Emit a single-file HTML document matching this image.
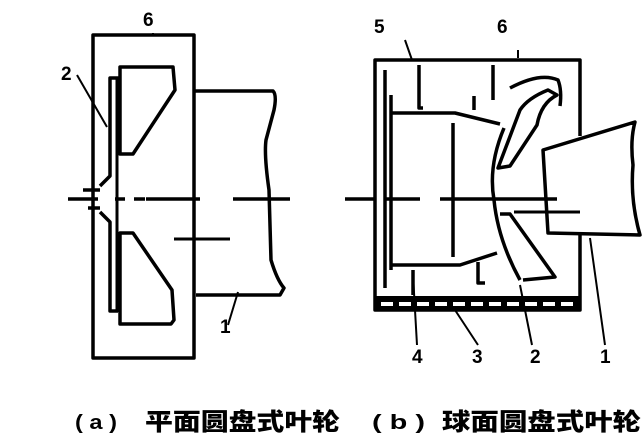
<!DOCTYPE html>
<html><head><meta charset="utf-8"><style>
html,body{margin:0;padding:0;background:#fff;width:643px;height:443px;overflow:hidden}
svg{position:absolute;left:0;top:0}
.l{font-family:"Liberation Sans",sans-serif;font-weight:bold;font-size:19px;fill:#000}
.c{font-family:"Liberation Sans","Noto Sans CJK SC",sans-serif;font-weight:900;font-size:24px;fill:#000}
</style></head><body>
<svg width="643" height="443" viewBox="0 0 643 443" fill="none" stroke="#000" stroke-width="3.5" stroke-linejoin="round">
<!-- left diagram -->
<rect x="93" y="35" width="101" height="323"/>
<path d="M194 91 H273 Q277 95 274 110 L266 140 Q264 155 269 190 L271 260 Q277 280 284 288 L280 295 H196"/>
<path d="M120 67 H173 L175 90 L133 154 H120 Z"/>
<path d="M120 233 H133 L172 290 L174 320 L171 324 H120 Z"/>
<path d="M120 78 H110 V176 L100 186 M100 212 L110 222 V311 H118"/>
<path d="M117 78 V312" stroke-width="3"/>
<path d="M68 199 H98 M115 199 H125 M134 199 H145 M146 199 H200 M233 199 H290" />
<path d="M83 190 H100 M88 208 H100"/>
<path d="M174 239 H230" stroke-width="3"/>
<path d="M77 75 L107 127" stroke-width="2"/>
<path d="M153 33 V36" stroke-width="2"/>
<path d="M238 292 L228 325" stroke-width="2"/>
<text class="l" stroke="none" x="143" y="26">6</text>
<text class="l" stroke="none" x="61" y="80">2</text>
<text class="l" stroke="none" x="220" y="333">1</text>
<!-- right diagram -->
<path d="M580 136 V60 H375 V310 H580 V235"/>
<rect x="375" y="297" width="205" height="13" fill="#000" stroke-width="2"/>
<path d="M381 304 H578" stroke="#fff" stroke-width="4" stroke-dasharray="12 6"/>
<path d="M385 70 V288 M391 95 V270"/>
<path d="M390 113 H455 L500 124"/>
<path d="M390 265 H460 L497 253"/>
<path d="M419 65 V108 H423 M493 65 V100 M474 96 V110 M453 123 V257"/>
<path d="M413 270 V295 M478 262 V283 H485"/>
<path d="M504 128 Q488 166 494 200 Q498 240 520 280"/>
<path d="M498 168 L510 166 L537 125 Q541 103 557 95 L548 90 Q528 98 520 110 Z"/>
<path d="M500 214 L510 214 L555 277 L523 280"/>
<path d="M510 88 Q540 72 558 80 Q562 90 560 106"/>
<path d="M543 150 L635 122 Q630 140 633 165 Q630 200 640 235 L548 233 Z" fill="#fff"/>
<path d="M345 199 H375 M386 199 H420 M440 199 H557"/>
<path d="M514 212 H580" stroke-width="3"/>
<path d="M405 40 L412 60 M518 50 V58 M413 275 L417 345 M455 310 L478 345 M520 285 L532 345 M590 238 L605 345" stroke-width="2"/>
<text class="l" stroke="none" x="374" y="33">5</text>
<text class="l" stroke="none" x="497" y="33">6</text>
<text class="l" stroke="none" x="412" y="363">4</text>
<text class="l" stroke="none" x="472" y="363">3</text>
<text class="l" stroke="none" x="530" y="363">2</text>
<text class="l" stroke="none" x="600" y="363">1</text>
<!-- captions -->
<text class="c" stroke="none" x="75" y="429" textLength="42" lengthAdjust="spacingAndGlyphs" style="font-size:20px">( a )</text>
<text class="c" stroke="none" x="145" y="430" textLength="195" lengthAdjust="spacingAndGlyphs">平面圆盘式叶轮</text>
<text class="c" stroke="none" x="372" y="429" textLength="53" lengthAdjust="spacingAndGlyphs" style="font-size:20px">( b )</text>
<text class="c" stroke="none" x="442" y="430" textLength="199" lengthAdjust="spacingAndGlyphs">球面圆盘式叶轮</text>
</svg>
</body></html>
